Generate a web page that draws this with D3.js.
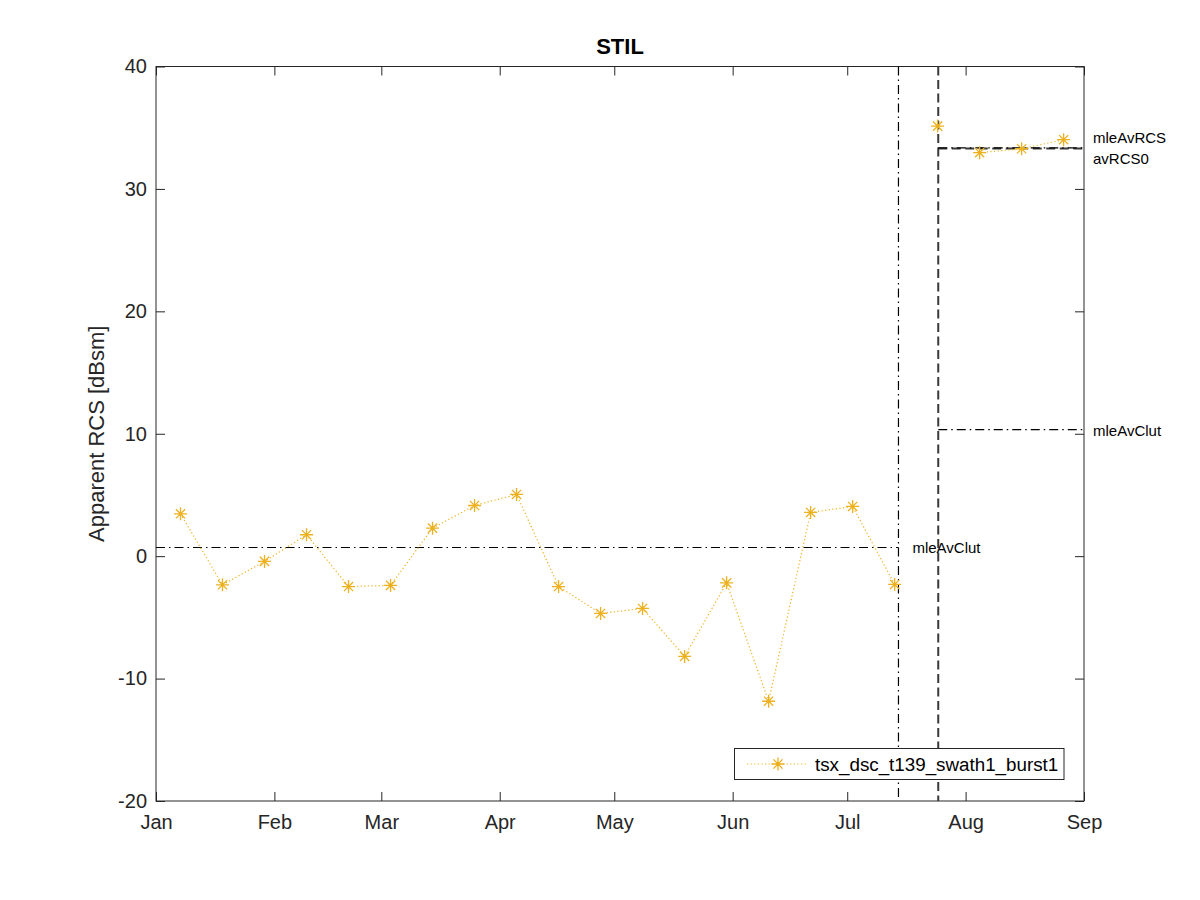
<!DOCTYPE html>
<html>
<head>
<meta charset="utf-8">
<script src="https://cdn.jsdelivr.net/npm/d3@7"></script>
<style>
  body { margin: 0; background: #fff; }
  svg { display: block; font-family: "Liberation Sans", Arial, Helvetica, sans-serif; }
</style>
</head>
<body>
<svg id="chart" width="1200" height="900"></svg>
<script>
// ---------- data ----------
const chartTitle = "STIL";
const yLabel = "Apparent RCS [dBsm]";
const seriesName = "tsx_dsc_t139_swath1_burst1";
const acqDates = [
  "2019-01-07T10:00", "2019-01-18T10:00", "2019-01-29T10:00", "2019-02-09T10:00",
  "2019-02-20T10:00", "2019-03-03T10:00", "2019-03-14T10:00", "2019-03-25T10:00",
  "2019-04-05T10:00", "2019-04-16T10:00", "2019-04-27T10:00", "2019-05-08T10:00",
  "2019-05-19T10:00", "2019-05-30T10:00", "2019-06-10T10:00", "2019-06-21T10:00",
  "2019-07-02T10:00", "2019-07-13T10:00", "2019-07-24T16:00", "2019-08-04T16:00",
  "2019-08-15T16:00", "2019-08-26T16:00"
];
const rcsValues = [
  3.46, -2.34, -0.43, 1.75, -2.48, -2.39, 2.29, 4.14,
  5.04, -2.48, -4.68, -4.27, -8.19, -2.18, -11.85, 3.57,
  4.06, -2.31, 35.13, 32.96, 33.28, 34.02
];
// the dotted line is broken into separate runs in the original
const lineRun = [
  0, 0, 0, 0, 0, 0, 0, 0, 0, 0, 0, 0, 0, 0, 0, 0, 0, 0, 1, 2, 2, 2
];
const xDomain = ["2019-01-01T00:00", "2019-09-01T00:00"];
const yDomain = [-20, 40];
const yTicks = [-20, -10, 0, 10, 20, 30, 40];
const monthTicks = ["2019-01-01", "2019-02-01", "2019-03-01", "2019-04-01", "2019-05-01",
                    "2019-06-01", "2019-07-01", "2019-08-01", "2019-09-01"];
const monthLabels = ["Jan", "Feb", "Mar", "Apr", "May", "Jun", "Jul", "Aug", "Sep"];
// change-point dates (vertical lines)
const mleChangeDate = "2019-07-14T10:00";   // dash-dot
const changeDate = "2019-07-24T20:00";      // dashed
// level estimates
const mleAvClutBefore = 0.71;
const mleAvClutAfter = 10.33;
const mleAvRCS = 33.36;
const avRCS0 = 33.30;

// ---------- layout ----------
const L = 156, R = 1084, T = 66.5, B = 801;
const parse = d3.isoParse;
const svg = d3.select("#chart");
const x = d3.scaleTime().domain(xDomain.map(parse)).range([L, R]);
const y = d3.scaleLinear().domain(yDomain).range([B, T]);
const axisColor = "#262626";
const serieColor = "#EDB120";

// axes
const tickLen = 9;
const gx = svg.append("g").attr("transform", `translate(0,${B})`)
  .call(d3.axisBottom(x).tickValues(monthTicks.map(parse))
    .tickFormat((d, i) => monthLabels[i]).tickSizeInner(-tickLen).tickSizeOuter(0).tickPadding(13.5));
const gxTop = svg.append("g").attr("transform", `translate(0,${T})`)
  .call(d3.axisTop(x).tickValues(monthTicks.map(parse)).tickFormat("").tickSizeInner(-tickLen).tickSizeOuter(0));
const gy = svg.append("g").attr("transform", `translate(${L},0)`)
  .call(d3.axisLeft(y).tickValues(yTicks).tickFormat(d => String(d))
    .tickSizeInner(-tickLen).tickSizeOuter(0).tickPadding(9));
const gyR = svg.append("g").attr("transform", `translate(${R},0)`)
  .call(d3.axisRight(y).tickValues(yTicks).tickFormat("").tickSizeInner(-tickLen).tickSizeOuter(0));
[gx, gxTop, gy, gyR].forEach(g => {
  g.select(".domain").remove();
  g.selectAll(".tick line").attr("stroke", axisColor).attr("stroke-width", 1);
  g.selectAll(".tick text").attr("fill", axisColor).style("font-size", "20px")
    .style("font-family", '"Liberation Sans", Arial, sans-serif');
});
// box
svg.append("rect").attr("x", L).attr("y", T).attr("width", R - L).attr("height", B - T)
  .attr("fill", "none").attr("stroke", axisColor).attr("stroke-width", 1);

// title and label
svg.append("text").attr("x", (L + R) / 2).attr("y", 54).attr("text-anchor", "middle")
  .attr("font-weight", "bold").attr("font-size", 22).attr("fill", "#000").text(chartTitle);
svg.append("text").attr("transform", `translate(104,${(T + B) / 2}) rotate(-90)`)
  .attr("text-anchor", "middle").attr("font-size", 22).attr("fill", axisColor).text(yLabel);

const dashDot = "9,4,1.5,4";
const dashed = "9,4.5";

// vertical lines
svg.append("line").attr("x1", x(parse(mleChangeDate))).attr("x2", x(parse(mleChangeDate)))
  .attr("y1", T).attr("y2", B).attr("stroke", "#000").attr("stroke-width", 1.2)
  .attr("stroke-dasharray", dashDot);
svg.append("line").attr("x1", x(parse(changeDate))).attr("x2", x(parse(changeDate)))
  .attr("y1", T).attr("y2", B).attr("stroke", "#3a3a3a").attr("stroke-width", 2)
  .attr("stroke-dasharray", dashed);

// horizontal level lines
function hline(x1, x2, v, color, w, dash) {
  svg.append("line").attr("x1", x1).attr("x2", x2).attr("y1", y(v)).attr("y2", y(v))
    .attr("stroke", color).attr("stroke-width", w).attr("stroke-dasharray", dash);
}
hline(L, x(parse(mleChangeDate)), mleAvClutBefore, "#000", 1.2, dashDot);
hline(x(parse(changeDate)), R, mleAvClutAfter, "#000", 1.2, dashDot);
hline(x(parse(changeDate)), R, avRCS0, "#3a3a3a", 2, dashed);
hline(x(parse(changeDate)), R, mleAvRCS, "#000", 1.2, dashDot);

// level labels
function label(xp, yp, txt, baseline) {
  svg.append("text").attr("x", xp).attr("y", yp).attr("font-size", 15).attr("fill", "#000")
    .attr("dominant-baseline", baseline).text(txt);
}
label(x(parse(mleChangeDate)) + 14, y(mleAvClutBefore), "mleAvClut", "central");
label(R + 9, y(mleAvClutAfter) + 1, "mleAvClut", "central");
label(R + 9, y(mleAvRCS) - 4.5, "mleAvRCS", "alphabetic");
label(R + 9, y(avRCS0) + 15.5, "avRCS0", "alphabetic");

// series
const pts = acqDates.map((d, i) => ({ t: parse(d), v: rcsValues[i], run: lineRun[i] }));
const runs = d3.groups(pts, d => d.run).map(g => g[1]);
svg.append("g").selectAll("path").data(runs).join("path")
  .attr("d", d3.line().x(d => x(d.t)).y(d => y(d.v)))
  .attr("fill", "none").attr("stroke", serieColor).attr("stroke-width", 1.2)
  .attr("stroke-dasharray", "1.2,2.4");
const star = "M-6.5,0L6.5,0M0,-6.5L0,6.5M-4.6,-4.6L4.6,4.6M-4.6,4.6L4.6,-4.6";
svg.append("g").selectAll("path").data(pts).join("path")
  .attr("transform", d => `translate(${x(d.t)},${y(d.v)})`)
  .attr("d", star).attr("fill", "none").attr("stroke", serieColor).attr("stroke-width", 1.3);

// legend
const lg = svg.append("g");
lg.append("rect").attr("x", 734.5).attr("y", 748.5).attr("width", 329.5).attr("height", 31)
  .attr("fill", "#fff").attr("stroke", axisColor).attr("stroke-width", 1);
lg.append("line").attr("x1", 747).attr("x2", 807).attr("y1", 764).attr("y2", 764)
  .attr("stroke", serieColor).attr("stroke-width", 1.2).attr("stroke-dasharray", "1.2,2.4");
lg.append("path").attr("transform", "translate(778,764)").attr("d", star)
  .attr("fill", "none").attr("stroke", serieColor).attr("stroke-width", 1.3);
lg.append("text").attr("x", 815).attr("y", 764).attr("dominant-baseline", "central")
  .attr("font-size", 18.8).attr("fill", "#000").text(seriesName);
</script>
</body>
</html>
